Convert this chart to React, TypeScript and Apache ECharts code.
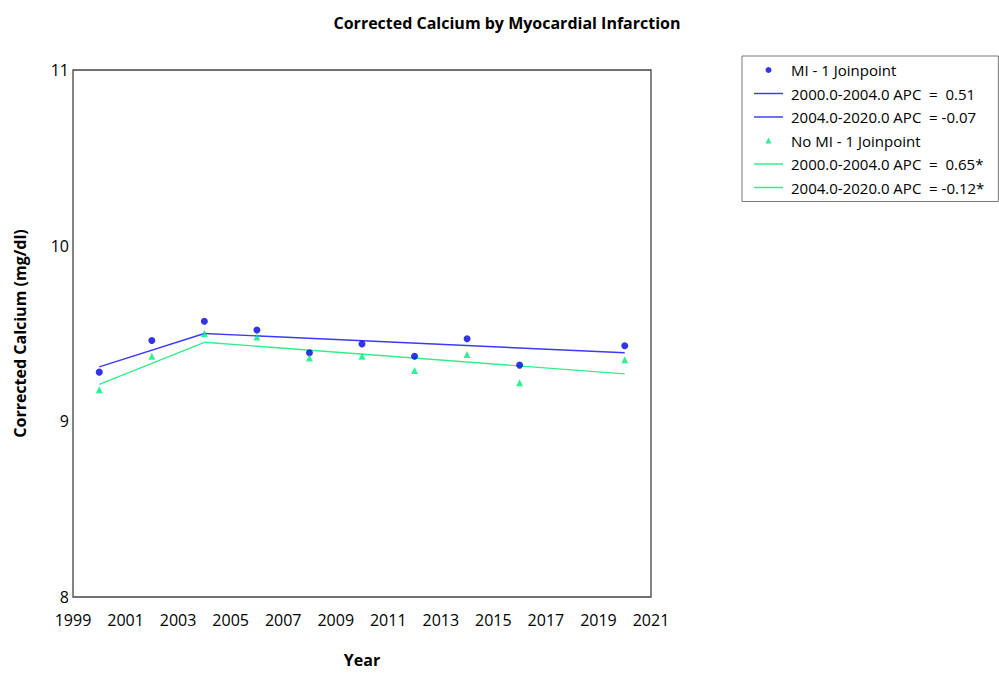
import React, { useEffect, useRef } from "react";
import * as echarts from "echarts";

const years = [2000, 2002, 2004, 2006, 2008, 2010, 2012, 2014, 2016, 2020];
const miValues = [9.28, 9.46, 9.57, 9.52, 9.39, 9.44, 9.37, 9.47, 9.32, 9.43];
const noMiValues = [9.18, 9.37, 9.5, 9.48, 9.36, 9.37, 9.29, 9.38, 9.22, 9.35];

const segYears1 = [2000, 2004];
const segYears2 = [2004, 2020];
const miFit1 = [9.31, 9.5];
const miFit2 = [9.5, 9.39];
const noMiFit1 = [9.21, 9.45];
const noMiFit2 = [9.45, 9.27];

const legendNames = [
  "MI - 1 Joinpoint",
  "2000.0-2004.0 APC  =  0.51",
  "2004.0-2020.0 APC  = -0.07",
  "No MI - 1 Joinpoint",
  "2000.0-2004.0 APC  =  0.65*",
  "2004.0-2020.0 APC  = -0.12*",
];

const FONT = "'Open Sans', 'Noto Sans', sans-serif";
const BLUE_PT = "#0000e0";
const BLUE_LN = "#3a3aff";
const GREEN_PT = "#00ee77";
const GREEN_LN = "#33ee88";

const LINE_ICON = "path://M0,0H100V5H0Z";
const TRI_ICON = "path://M3,0L6,6L0,6Z";
const CIRCLE_ICON = "circle";

const zip = (xs: number[], ys: number[]) => xs.map((x, i) => [x, ys[i]]);

export default function App() {
  const ref = useRef<HTMLDivElement>(null);
  useEffect(() => {
    if (!ref.current) return;
    const chart = echarts.init(ref.current, null, { renderer: "svg" });
    const lineSeries = (name: string, xs: number[], ys: number[], color: string) => ({
      name,
      type: "line",
      data: zip(xs, ys),
      showSymbol: false,
      symbol: "none",
      lineStyle: { color, width: 1.4 },
      itemStyle: { color },
      z: 2,
    });
    chart.setOption({
      animation: false,
      backgroundColor: "#ffffff",
      title: {
        text: "Corrected Calcium by Myocardial Infarction",
        left: 502,
        textAlign: "center",
        top: 10,
        textStyle: { fontFamily: FONT, fontSize: 16, fontWeight: "bold", color: "#000" },
      },
      legend: {
        orient: "vertical",
        left: 742,
        top: 56,
        padding: [6, 14, 6, 12],
        borderColor: "#777",
        borderWidth: 1,
        itemWidth: 29,
        itemHeight: 6,
        itemGap: 7.5,
        symbolKeepAspect: true,
        textStyle: {
          fontFamily: FONT,
          fontSize: 15,
          lineHeight: 16,
          color: "#000",
          padding: [0, 0, 0, 3],
        },
        data: legendNames.map((n, i) =>
          i === 0
            ? { name: n, icon: CIRCLE_ICON }
            : i === 3
            ? { name: n, icon: TRI_ICON }
            : { name: n, icon: LINE_ICON }
        ),
      },
      grid: {
        left: 73,
        right: 348,
        top: 70,
        bottom: 71,
        show: true,
        borderColor: "#444",
        borderWidth: 1.3,
      },
      xAxis: {
        type: "value",
        min: 1999,
        max: 2021,
        interval: 2,
        name: "Year",
        nameLocation: "middle",
        nameGap: 55,
        nameTextStyle: { fontFamily: FONT, fontSize: 16, fontWeight: "bold", color: "#000" },
        axisLine: { show: false },
        axisTick: { show: false },
        splitLine: { show: false },
        axisLabel: {
          formatter: (v: number) => String(v),
          fontFamily: FONT,
          fontSize: 16,
          color: "#000",
          margin: 15,
        },
      },
      yAxis: {
        type: "value",
        min: 8,
        max: 11,
        interval: 1,
        name: "Corrected Calcium (mg/dl)",
        nameLocation: "middle",
        nameGap: 45,
        nameTextStyle: { fontFamily: FONT, fontSize: 16, fontWeight: "bold", color: "#000" },
        axisLine: { show: false },
        axisTick: { show: false },
        splitLine: { show: false },
        axisLabel: { fontFamily: FONT, fontSize: 16, color: "#000", margin: 4 },
      },
      series: [
        {
          name: legendNames[0],
          type: "scatter",
          data: zip(years, miValues),
          symbol: "circle",
          symbolSize: 7,
          itemStyle: { color: BLUE_PT },
          z: 3,
        },
        lineSeries(legendNames[1], segYears1, miFit1, BLUE_LN),
        lineSeries(legendNames[2], segYears2, miFit2, BLUE_LN),
        {
          name: legendNames[3],
          type: "scatter",
          data: zip(years, noMiValues),
          symbol: "triangle",
          symbolSize: 7,
          itemStyle: { color: GREEN_PT },
          z: 3,
        },
        lineSeries(legendNames[4], segYears1, noMiFit1, GREEN_LN),
        lineSeries(legendNames[5], segYears2, noMiFit2, GREEN_LN),
      ],
    });
    return () => chart.dispose();
  }, []);
  return <div ref={ref} style={{ width: 999, height: 673, position: "absolute", left: 0, top: 0 }} />;
}
